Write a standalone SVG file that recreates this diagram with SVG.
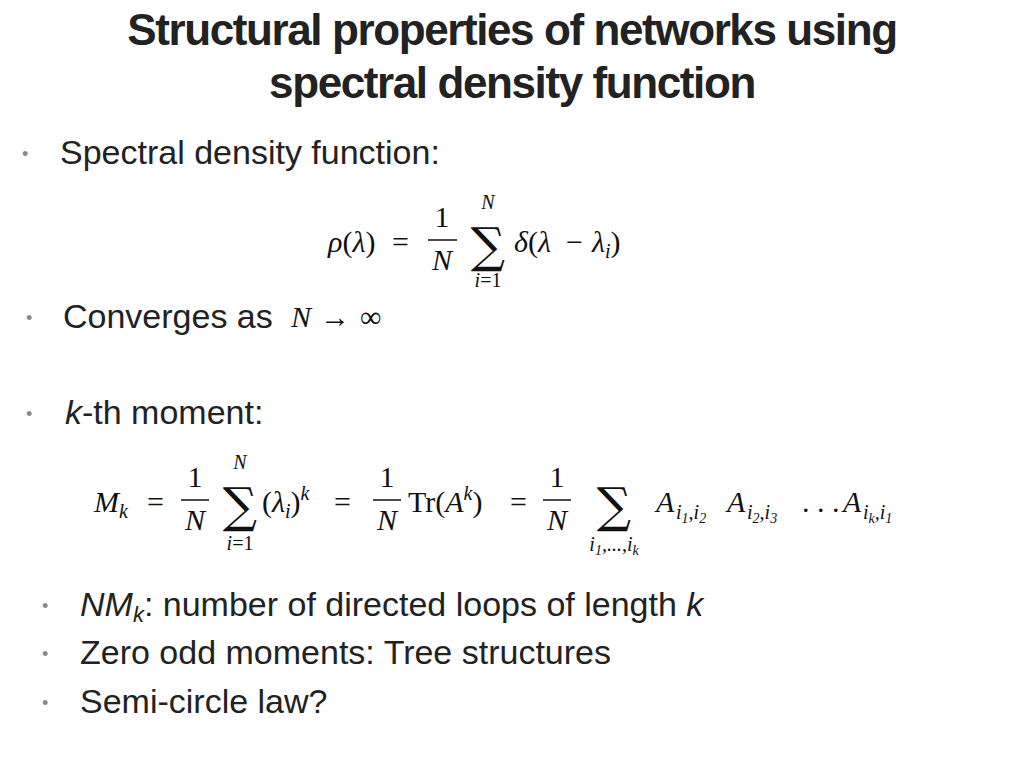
<svg xmlns="http://www.w3.org/2000/svg" width="1024" height="768" viewBox="0 0 1024 768">
<style>
.t{font-family:"Liberation Sans",Arial,sans-serif;font-weight:bold;font-size:44px;fill:#222;letter-spacing:-1.4px}
.b{font-family:"Liberation Sans",Arial,sans-serif;font-size:34px;fill:#222}
.d{font-family:"Liberation Sans",Arial,sans-serif;font-size:18px;fill:#888}
.m{font-family:"Liberation Serif","Times New Roman",serif;font-size:30px;fill:#111}
.s{font-family:"Liberation Serif","Times New Roman",serif;font-size:20px;fill:#111}
.x{font-family:"Liberation Serif","Times New Roman",serif;font-size:14px;fill:#111;font-style:italic}
.i{font-style:italic}
</style>
<rect width="1024" height="768" fill="#fff"/>
<g id="title">
<text class="t" x="512" y="45" text-anchor="middle">Structural properties of networks using</text>
<text class="t" x="512" y="98" text-anchor="middle">spectral density function</text>
</g>
<g id="bullets">
<text class="d" x="22" y="160">•</text>
<text class="b" x="60" y="164">Spectral density function:</text>
<text class="d" x="26" y="324">•</text>
<text class="b" x="63" y="328">Converges as</text>
<text class="m" x="291" y="327"><tspan class="i">N</tspan><tspan x="320">→</tspan><tspan x="360">∞</tspan></text>
<text class="d" x="26" y="420">•</text>
<text class="b" x="65" y="424"><tspan class="i">k</tspan>-th moment:</text>
<text class="d" x="42" y="612">•</text>
<text class="b" x="80" y="616"><tspan class="i">NM</tspan><tspan class="i" font-size="22" dy="6">k</tspan><tspan dy="-6">: number of directed loops of length </tspan><tspan class="i">k</tspan></text>
<text class="d" x="42" y="660">•</text>
<text class="b" x="80" y="664">Zero odd moments: Tree structures</text>
<text class="d" x="42" y="709">•</text>
<text class="b" x="80" y="713">Semi-circle law?</text>
</g>
<g id="eq1">
<text class="m" x="328" y="252"><tspan class="i">ρ</tspan>(<tspan class="i">λ</tspan>)</text>
<text class="m" x="392" y="252">=</text>
<text class="m" x="442" y="227" text-anchor="middle">1</text>
<line x1="428" y1="240" x2="457" y2="240" stroke="#111" stroke-width="1.5"/>
<text class="m i" x="442" y="270" text-anchor="middle">N</text>
<text class="s i" x="488" y="209" text-anchor="middle">N</text>
<text x="488" y="262" font-family="DejaVu Serif,serif" font-size="48" text-anchor="middle" fill="#111">∑</text>
<text class="s" x="488" y="287" text-anchor="middle"><tspan class="i">i</tspan>=1</text>
<text class="m" x="514" y="252"><tspan class="i">δ</tspan>(<tspan class="i">λ</tspan></text>
<text class="m" x="566" y="252">−</text>
<text class="m" x="592" y="252"><tspan class="i">λ</tspan><tspan class="i" font-size="20" dy="6">i</tspan><tspan dy="-6">)</tspan></text>
</g>
<g id="eq2">
<text class="m" x="94" y="512"><tspan class="i">M</tspan><tspan class="i" font-size="20" dy="6">k</tspan></text>
<text class="m" x="147" y="512">=</text>
<text class="m" x="195" y="487" text-anchor="middle">1</text>
<line x1="181" y1="500" x2="209" y2="500" stroke="#111" stroke-width="1.5"/>
<text class="m i" x="195" y="530" text-anchor="middle">N</text>
<text class="s i" x="240" y="469" text-anchor="middle">N</text>
<text x="240" y="522" font-family="DejaVu Serif,serif" font-size="48" text-anchor="middle" fill="#111">∑</text>
<text class="s" x="240" y="550" text-anchor="middle"><tspan class="i">i</tspan>=1</text>
<text class="m" x="262" y="512">(<tspan class="i">λ</tspan><tspan class="i" font-size="20" dy="6">i</tspan><tspan dy="-6">)</tspan><tspan class="i" font-size="20" dy="-12">k</tspan></text>
<text class="m" x="334" y="512">=</text>
<text class="m" x="387" y="487" text-anchor="middle">1</text>
<line x1="373" y1="500" x2="401" y2="500" stroke="#111" stroke-width="1.5"/>
<text class="m i" x="387" y="530" text-anchor="middle">N</text>
<text class="m" x="408" y="512">Tr(<tspan class="i">A</tspan><tspan class="i" font-size="20" dy="-12">k</tspan><tspan dy="12">)</tspan></text>
<text class="m" x="510" y="512">=</text>
<text class="m" x="557" y="487" text-anchor="middle">1</text>
<line x1="543" y1="500" x2="571" y2="500" stroke="#111" stroke-width="1.5"/>
<text class="m i" x="557" y="530" text-anchor="middle">N</text>
<text x="614" y="522" font-family="DejaVu Serif,serif" font-size="48" text-anchor="middle" fill="#111">∑</text>
<text class="s i" x="614" y="551" text-anchor="middle">i<tspan font-size="14" dy="4">1</tspan><tspan dy="-4">,...,i</tspan><tspan font-size="14" dy="4">k</tspan></text>
<text class="m i" x="656" y="512">A</text>
<text class="s i" x="676" y="519">i<tspan class="x" dy="4">1</tspan><tspan dy="-4">,i</tspan><tspan class="x" dy="4">2</tspan></text>
<text class="m i" x="727" y="512">A</text>
<text class="s i" x="747" y="519">i<tspan class="x" dy="4">2</tspan><tspan dy="-4">,i</tspan><tspan class="x" dy="4">3</tspan></text>
<text class="m" x="802" y="512">. . .</text>
<text class="m i" x="843" y="512">A</text>
<text class="s i" x="863" y="519">i<tspan class="x" dy="4">k</tspan><tspan dy="-4">,i</tspan><tspan class="x" dy="4">1</tspan></text>
</g>
</svg>
